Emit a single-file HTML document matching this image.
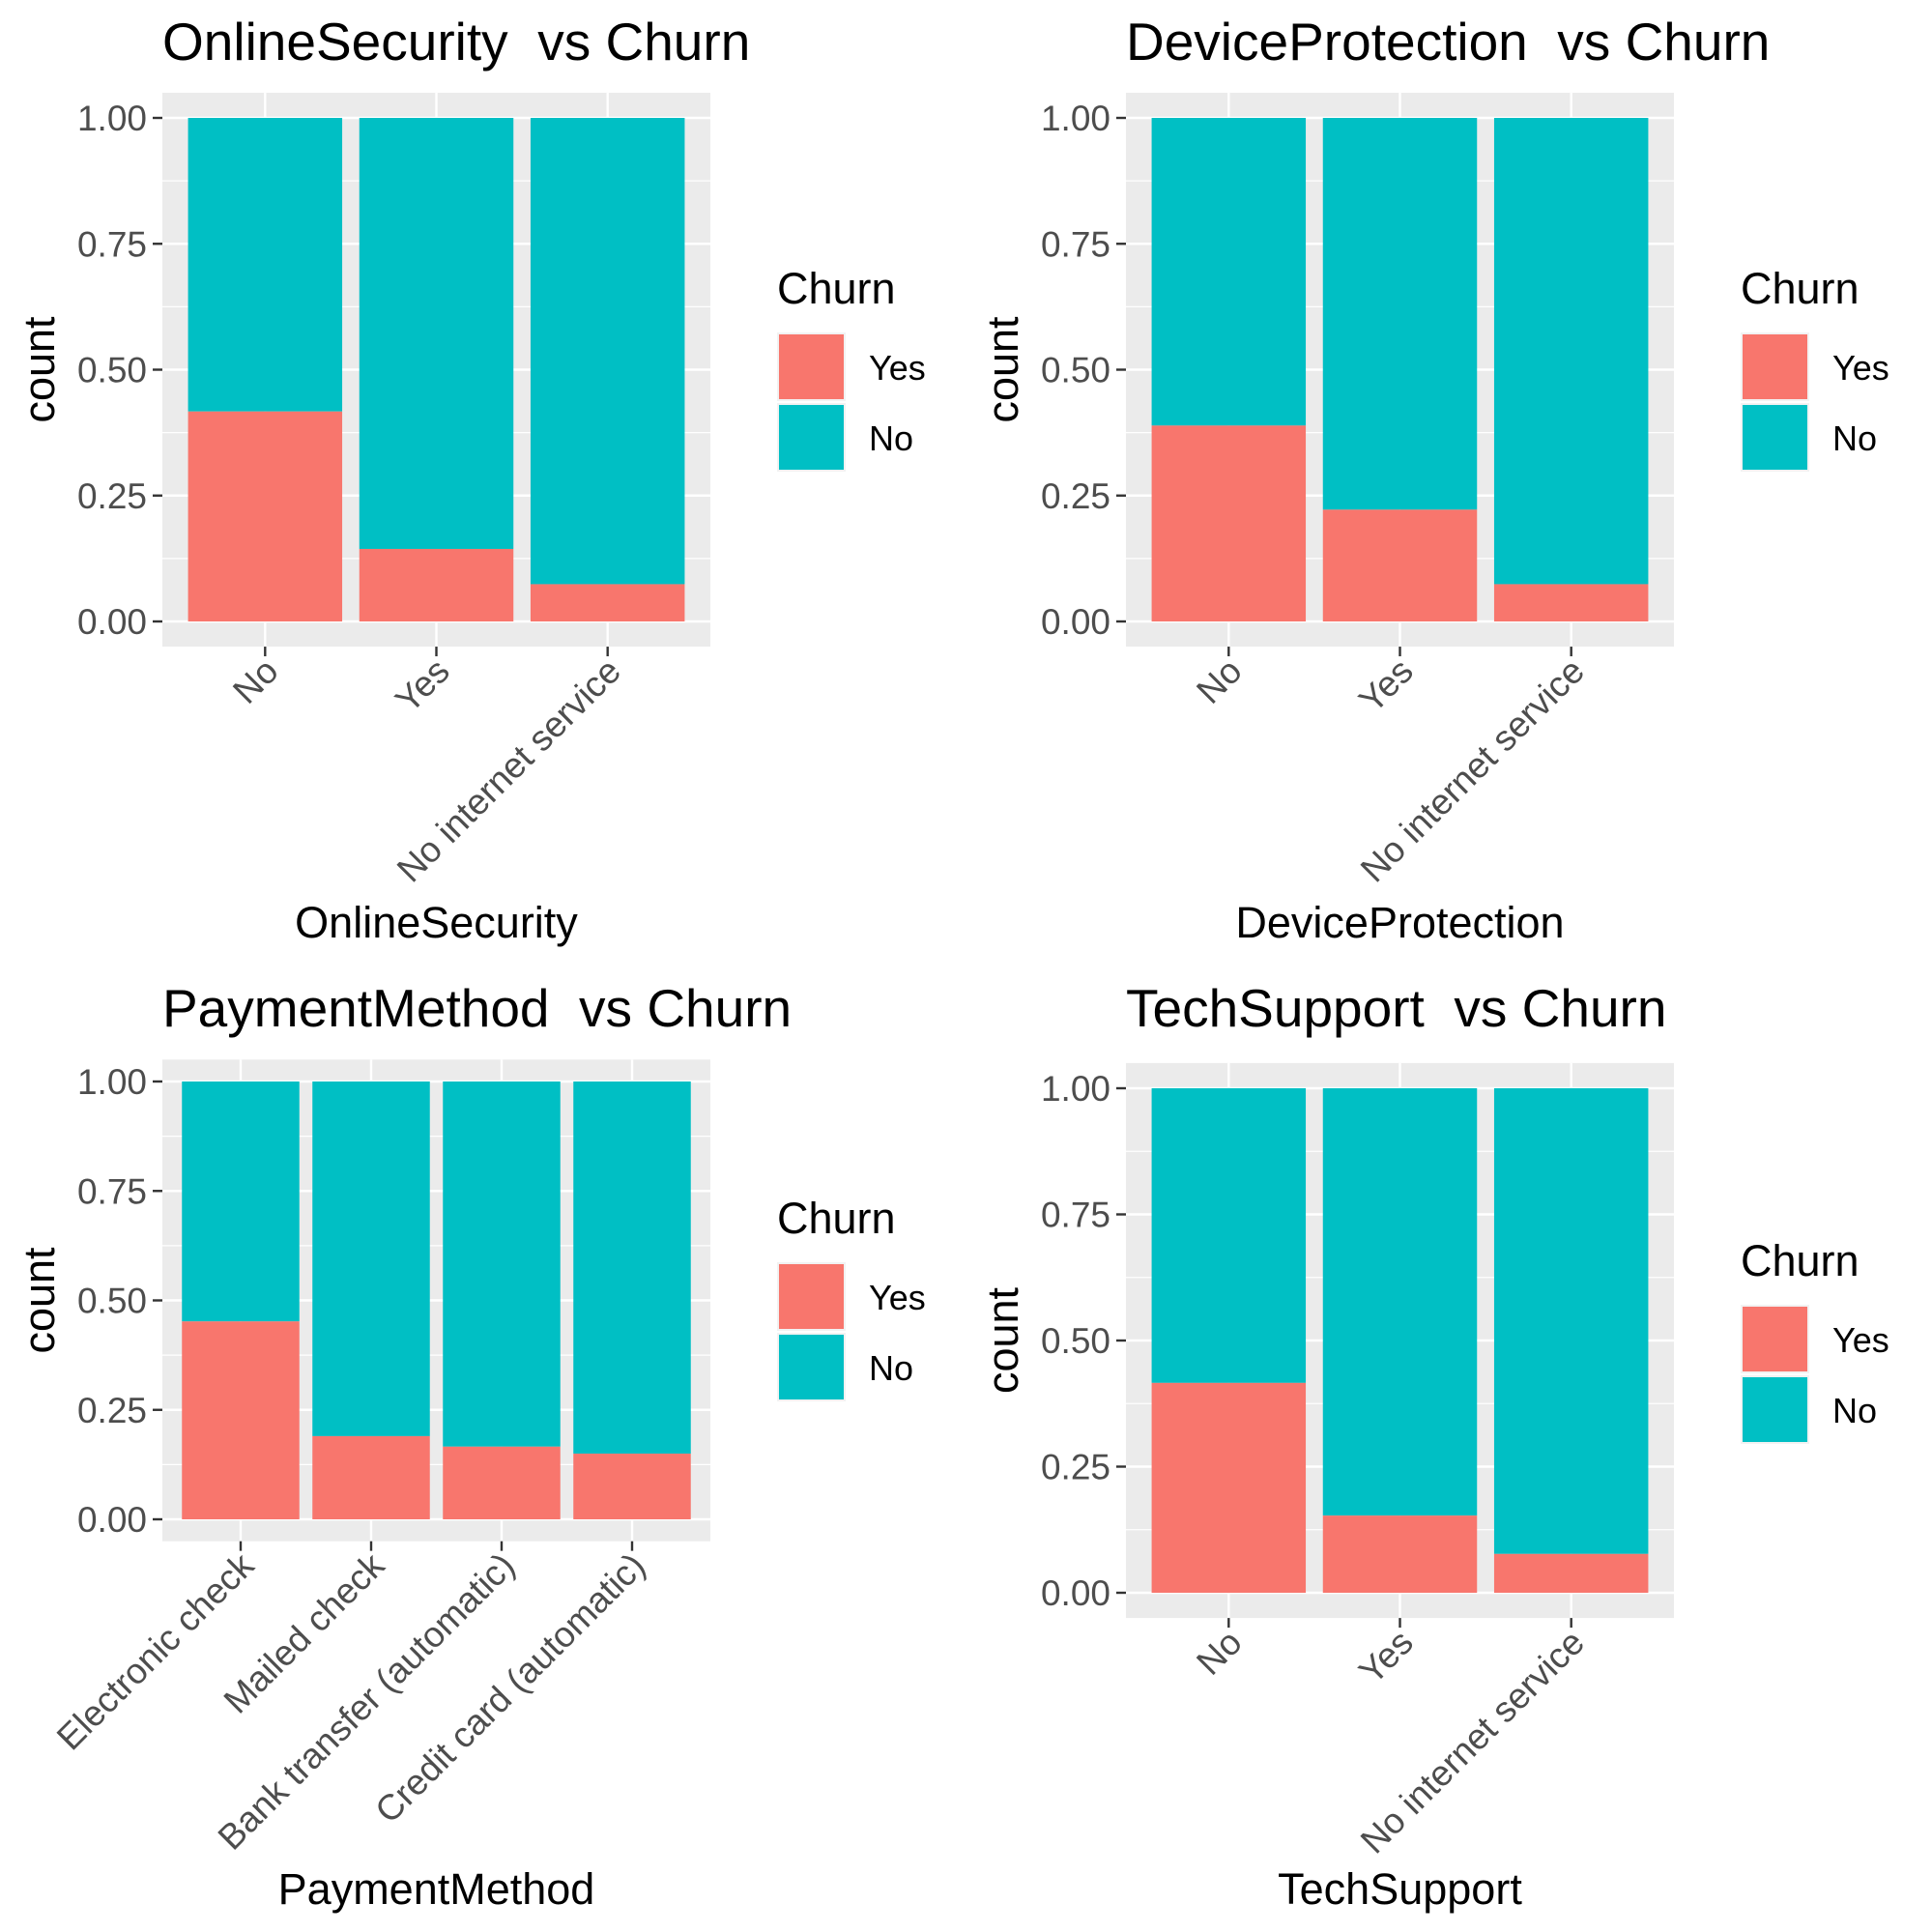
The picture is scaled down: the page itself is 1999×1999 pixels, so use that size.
<!DOCTYPE html>
<html><head><meta charset="utf-8"><style>
html,body{margin:0;padding:0;background:#fff}
svg{display:block;font-family:"Liberation Sans",Arial,sans-serif}
text{white-space:pre}
</style></head><body>
<svg id="chart" width="1999" height="1999" viewBox="0 0 1999 1999" xmlns="http://www.w3.org/2000/svg" xml:space="preserve"></svg>
<script>
const titles = ["OnlineSecurity", "DeviceProtection", "PaymentMethod", "TechSupport"];
const catsOnline = ["No", "Yes", "No internet service"];
const catsDevice = ["No", "Yes", "No internet service"];
const catsPayment = ["Electronic check", "Mailed check", "Bank transfer (automatic)", "Credit card (automatic)"];
const catsTech = ["No", "Yes", "No internet service"];
const yesOnline = [0.417, 0.144, 0.074];
const yesDevice = [0.389, 0.222, 0.074];
const yesPayment = [0.452, 0.19, 0.166, 0.15];
const yesTech = [0.416, 0.153, 0.077];
const yTicks = [0, 0.25, 0.5, 0.75, 1];
const yTickLabels = ["0.00", "0.25", "0.50", "0.75", "1.00"];
const legendLabels = ["Yes", "No"];

const NS = "http://www.w3.org/2000/svg";
const svg = document.getElementById("chart");
function mk(tag, attrs, parent, text) {
  const e = document.createElementNS(NS, tag);
  for (const k in attrs) e.setAttribute(k, attrs[k]);
  if (text !== undefined) e.textContent = text;
  (parent || svg).appendChild(e);
  return e;
}
const RED = "#F8766D", TEAL = "#00BFC4";

function panel(name, cats, yes, ox, oy, y1, y0, legendY) {
  const g = mk("g", {});
  
  
  const px0 = ox + 168, px1 = ox + 735;
  const n = cats.length;
  const step = (px1 - px0) / (n + 0.2);
  const xC = i => px0 + step * (0.6 + i);
  const yS = v => y0 - (y0 - y1) * v;
  const top = yS(1.05), bot = yS(-0.05);
  const bg = mk("rect", {x: px0, y: top, width: px1 - px0, height: bot - top, fill: "#EBEBEB"}, g);
  
  
  for (let v = 0.125; v < 1.05; v += 0.25)
    mk("line", {x1: px0, x2: px1, y1: yS(v), y2: yS(v), stroke: "#fff", "stroke-width": 1.2}, g);
  yTicks.forEach(v => mk("line", {x1: px0, x2: px1, y1: yS(v), y2: yS(v), stroke: "#fff", "stroke-width": 2.4}, g));
  cats.forEach((c, i) => mk("line", {x1: xC(i), x2: xC(i), y1: top, y2: bot, stroke: "#fff", "stroke-width": 2.4}, g));
  const bw = step * 0.9;
  cats.forEach((c, i) => {
    const no = mk("rect", {x: xC(i) - bw / 2, y: yS(1), width: bw, height: yS(yes[i]) - yS(1), fill: TEAL}, g);
    
    
    const ye = mk("rect", {x: xC(i) - bw / 2, y: yS(yes[i]), width: bw, height: yS(0) - yS(yes[i]), fill: RED}, g);
    
    
  });
  yTicks.forEach((v, i) => {
    mk("line", {x1: px0 - 10, x2: px0, y1: yS(v), y2: yS(v), stroke: "#333", "stroke-width": 2.4}, g);
    const t = mk("text", {x: px0 - 16, y: yS(v) + 13, "text-anchor": "end", "font-size": 37, fill: "#4D4D4D"}, g, yTickLabels[i]);
    
    
  });
  cats.forEach((c, i) => {
    mk("line", {x1: xC(i), x2: xC(i), y1: bot, y2: bot + 10, stroke: "#333", "stroke-width": 2.4}, g);
    const cx = xC(i), cy = bot + 12;
    const t = mk("text", {x: cx, y: cy, dy: "0.6em", "text-anchor": "end", "font-size": 37, fill: "#4D4D4D",
      transform: `rotate(-45 ${cx} ${cy})`}, g, c);
    
    
  });
  const tt = mk("text", {x: ox + 168, y: oy + 62, "font-size": 55, fill: "#000"}, g, name + "  vs Churn");
  
  
  const cyy = (top + bot) / 2;
  const yt = mk("text", {x: ox + 56, y: cyy, "text-anchor": "middle", "font-size": 45, fill: "#000",
    transform: `rotate(-90 ${ox + 56} ${cyy})`}, g, "count");
  
  
  const xt = mk("text", {x: (px0 + px1) / 2, y: oy + 970, "text-anchor": "middle", "font-size": 45, fill: "#000"}, g, name);
  
  
  const lt = mk("text", {x: ox + 804, y: legendY, "font-size": 45, fill: "#000"}, g, "Churn");
  
  
  [RED, TEAL].forEach((col, i) => {
    const ky = legendY + 30 + i * 73;
    mk("rect", {x: ox + 804, y: ky, width: 71, height: 71, fill: "#F2F2F2"}, g);
    const k = mk("rect", {x: ox + 806, y: ky + 2, width: 67, height: 67, fill: col}, g);
    
    
    const lb = mk("text", {x: ox + 899, y: ky + 49, "font-size": 36, fill: "#000"}, g, legendLabels[i]);
    
    
  });
}
panel(titles[0], catsOnline, yesOnline, 0, 0, 122, 643, 314);
panel(titles[1], catsDevice, yesDevice, 997, 0, 122, 643, 314);
panel(titles[2], catsPayment, yesPayment, 0, 1000, 1119, 1572, 1276);
panel(titles[3], catsTech, yesTech, 997, 1000, 1126, 1648, 1320);
</script>
</body></html>
